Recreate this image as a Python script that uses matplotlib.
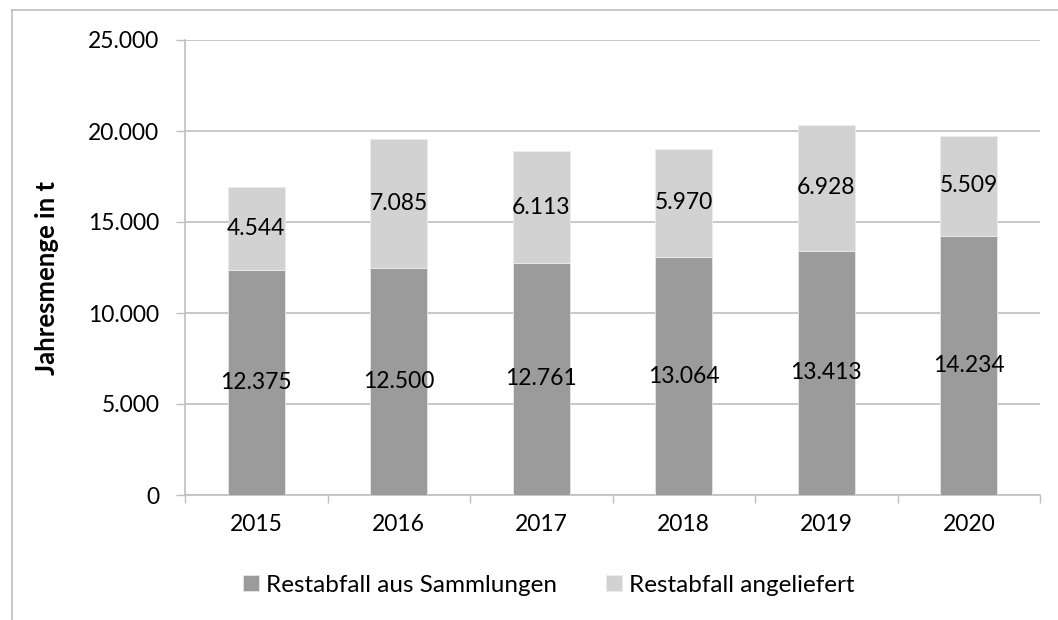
import matplotlib.pyplot as plt
import numpy as np
from matplotlib.lines import Line2D
from matplotlib.ticker import FuncFormatter, FixedLocator

years = ["2015", "2016", "2017", "2018", "2019", "2020"]
sammlungen = [12375, 12500, 12761, 13064, 13413, 14234]
angeliefert = [4544, 7085, 6113, 5970, 6928, 5509]

dark = "#9b9b9b"
light = "#d2d2d2"
grid_col = "#bfbfbf"

plt.rcParams["font.family"] = ["Lato", "DejaVu Sans"]


def de_thousands(v, _pos=None):
    return f"{int(round(v)):,}".replace(",", ".")


fig = plt.figure(figsize=(10.58, 6.2), dpi=100)
ax = fig.add_axes([185 / 1058, 1 - 495 / 620, (1040 - 185) / 1058, (495 - 40) / 620])

x = np.arange(len(years))
b1 = ax.bar(x, sammlungen, width=0.4, color=dark, edgecolor="#e6e6e6", linewidth=0.6,
            label="Restabfall aus Sammlungen", zorder=3)
b2 = ax.bar(x, angeliefert, width=0.4, bottom=sammlungen, color=light, edgecolor="#ececec",
            linewidth=0.6, label="Restabfall angeliefert", zorder=3)

for xi, s, a in zip(x, sammlungen, angeliefert):
    ax.text(xi, s / 2, de_thousands(s), ha="center", va="center", fontsize=16.5, zorder=4)
    ax.text(xi, s + a / 2, de_thousands(a), ha="center", va="center", fontsize=16.5, zorder=4)

ax.set_xlim(-0.5, len(years) - 0.5)
ax.set_ylim(0, 25000)
ax.set_yticks(np.arange(0, 25001, 5000))
ax.yaxis.set_major_formatter(FuncFormatter(de_thousands))
ax.set_xticks(x)
ax.set_xticklabels(years)
ax.xaxis.set_minor_locator(FixedLocator(np.arange(-0.5, len(years), 1.0)))

ax.grid(axis="y", color=grid_col, linewidth=1.2, zorder=0)
ax.tick_params(axis="y", which="major", length=6.5, width=1, color=grid_col, pad=12,
               labelsize=16.5)
ax.tick_params(axis="x", which="major", length=0, pad=14, labelsize=16.5)
ax.tick_params(axis="x", which="minor", length=6, width=1, color=grid_col)

for side in ["top", "right"]:
    ax.spines[side].set_visible(False)
for side in ["left", "bottom"]:
    ax.spines[side].set_color(grid_col)
    ax.spines[side].set_linewidth(1.2)

fig.text(47 / 1058, 1 - 278 / 620, "Jahresmenge in t", rotation=90, ha="center", va="center",
         fontsize=18.5, fontweight="bold")

fig.legend(handles=[b1, b2], loc="center", bbox_to_anchor=(549 / 1058, 1 - 585 / 620),
           ncol=2, frameon=False, fontsize=17.5, handlelength=0.65, handleheight=0.65,
           handletextpad=0.3, columnspacing=2.0)

# outer chart frame (top and left edges visible)
fig.add_artist(Line2D([12 / 1058, 1.0], [1 - 10 / 620, 1 - 10 / 620], transform=fig.transFigure,
                      color="#bdbdbd", linewidth=1.2))
fig.add_artist(Line2D([12 / 1058, 12 / 1058], [0, 1 - 10 / 620], transform=fig.transFigure,
                      color="#bdbdbd", linewidth=1.2))

fig.savefig("out.png", dpi=100)
